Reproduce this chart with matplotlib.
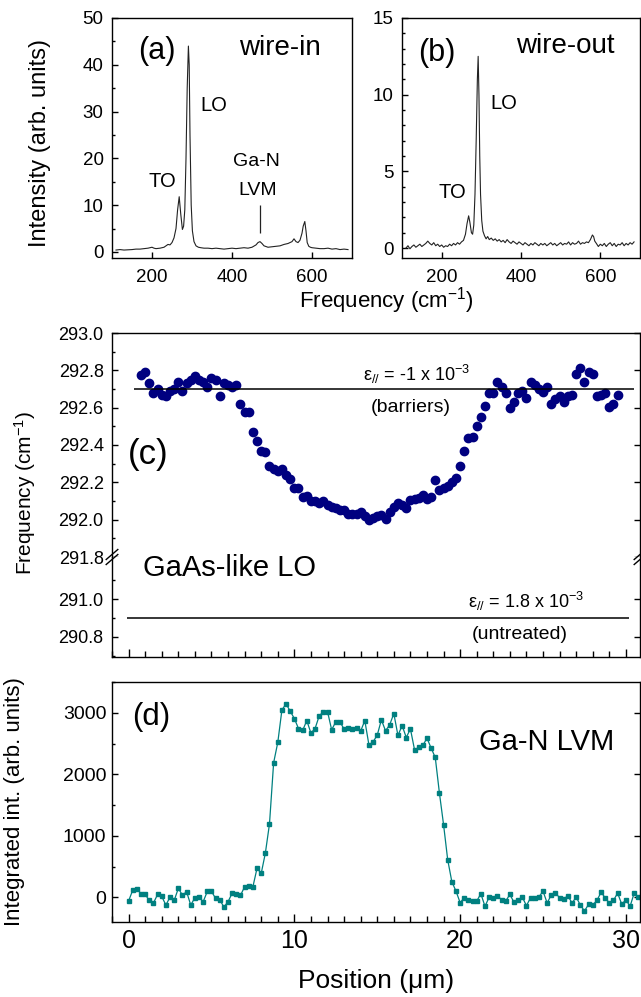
import numpy as np
import matplotlib
matplotlib.use('Agg')
import matplotlib.pyplot as plt
from matplotlib.ticker import MultipleLocator, FixedLocator, FormatStrFormatter

plt.rcParams['font.family'] = ['Liberation Sans', 'DejaVu Sans']
plt.rcParams['mathtext.fontset'] = 'custom'
plt.rcParams['mathtext.rm'] = 'Liberation Sans'
plt.rcParams['mathtext.it'] = 'Liberation Sans:italic'
plt.rcParams['mathtext.sf'] = 'Liberation Sans'
plt.rcParams['axes.linewidth'] = 1.0

# ---- (a) wire-in spectrum
freq_a = [110, 120, 130, 140, 150, 160, 170, 180, 190, 200, 205, 210, 220, 230, 240, 245,
          250, 255, 260, 264, 268, 272, 276, 279, 282, 285, 288, 291, 293, 295, 298, 301,
          305, 310, 316, 322, 330, 340, 350, 360, 370, 380, 390, 400, 410, 420, 430, 440,
          450, 460, 465, 470, 475, 480, 490, 500, 510, 520, 530, 540, 550, 555, 560, 565,
          570, 575, 578, 582, 585, 588, 592, 596, 600, 610, 620, 630, 640, 650, 660, 670,
          680, 690]
int_a = [0.4, 0.5, 0.4, 0.45, 0.5, 0.6, 0.6, 0.7, 0.8, 1.0, 0.8, 0.7, 0.8, 1.0, 1.6, 1.5,
         2.0, 3.0, 5.0, 9.0, 11.8, 8.0, 4.8, 5.5, 9.0, 20.0, 35.0, 44.0, 40.0, 25.0, 10.0, 4.5,
         2.2, 1.3, 1.0, 0.9, 0.8, 0.8, 0.7, 0.8, 0.7, 0.6, 0.7, 0.8, 0.7, 0.8, 0.9, 0.8,
         1.0, 1.5, 2.0, 2.2, 1.8, 1.3, 1.0, 1.1, 1.2, 1.3, 1.6, 1.8, 2.2, 2.8, 2.2, 2.0,
         2.5, 4.0, 5.5, 6.5, 4.5, 2.0, 1.2, 1.0, 0.9, 0.8, 0.7, 0.7, 0.8, 0.6, 0.7, 0.5,
         0.6, 0.5]

# ---- (b) wire-out spectrum
freq_b = [110, 115, 120, 125, 130, 135, 140, 145, 150, 155, 160, 165, 170, 175, 180, 185,
          190, 195, 200, 205, 210, 215, 220, 225, 230, 235, 240, 245, 250, 255, 260, 264,
          268, 271, 275, 278, 281, 284, 287, 290, 292, 294, 296, 298, 301, 304, 308, 312,
          316, 320, 325, 330, 335, 340, 345, 350, 355, 360, 365, 370, 375, 380, 385, 390,
          395, 400, 405, 410, 415, 420, 425, 430, 435, 440, 445, 450, 455, 460, 465, 470,
          475, 480, 485, 490, 495, 500, 505, 510, 515, 520, 525, 530, 535, 540, 545, 550,
          555, 560, 565, 570, 575, 580, 583, 586, 590, 595, 600, 605, 610, 615, 620, 625,
          630, 635, 640, 645, 650, 655, 660, 665, 670, 675, 680, 685]
int_b = [0.0, 0.15, -0.05, 0.1, 0.2, 0.05, 0.15, 0.25, 0.1, 0.2, 0.3, 0.45, 0.3, 0.2, 0.35, 0.15,
         0.25, 0.1, 0.2, 0.05, 0.15, 0.1, 0.25, 0.15, 0.3, 0.2, 0.35, 0.25, 0.4, 0.5, 0.9, 1.6,
         2.1, 1.7, 1.0, 0.9, 1.5, 3.5, 7.0, 11.0, 12.5, 10.0, 6.0, 3.5, 1.8, 1.1, 0.8, 0.6,
         0.75, 0.55, 0.65, 0.5, 0.6, 0.45, 0.55, 0.4, 0.5, 0.35, 0.55, 0.4, 0.3, 0.45, 0.35, 0.25,
         0.4, 0.3, 0.2, 0.35, 0.25, 0.15, 0.3, 0.2, 0.35, 0.25, 0.15, 0.3, 0.2, 0.3, 0.15, 0.25,
         0.35, 0.2, 0.3, 0.15, 0.25, 0.35, 0.2, 0.3, 0.25, 0.4, 0.2, 0.35, 0.25, 0.3, 0.45, 0.25,
         0.35, 0.3, 0.4, 0.35, 0.55, 0.85, 0.75, 0.45, 0.3, 0.1, 0.25, 0.15, 0.3, 0.1, 0.25, 0.35,
         0.15, 0.3, 0.1, 0.25, 0.2, 0.35, 0.15, 0.3, 0.2, 0.35, 0.25, 0.4]

# ---- (c) GaAs-like LO frequency vs position
pos_c_start, pos_c_step = 0.75, 0.25
freq_c = [292.775, 292.79, 292.73, 292.68, 292.70, 292.67, 292.66, 292.69, 292.70, 292.74,
          292.69, 292.73, 292.75, 292.77, 292.75, 292.74, 292.71, 292.76, 292.75, 292.66,
          292.73, 292.72, 292.71, 292.72, 292.62, 292.575, 292.575, 292.47, 292.42, 292.37,
          292.36, 292.29, 292.27, 292.26, 292.27, 292.24, 292.22, 292.17, 292.17, 292.12,
          292.125, 292.10, 292.10, 292.09, 292.10, 292.08, 292.07, 292.06, 292.05, 292.05,
          292.03, 292.03, 292.03, 292.04, 292.02, 292.00, 292.01, 292.02, 292.025, 292.005,
          292.04, 292.07, 292.09, 292.08, 292.06, 292.105, 292.11, 292.115, 292.13, 292.11,
          292.12, 292.21, 292.16, 292.17, 292.18, 292.20, 292.225, 292.29, 292.37, 292.44,
          292.445, 292.50, 292.55, 292.61, 292.68, 292.68, 292.74, 292.71, 292.68, 292.60,
          292.63, 292.68, 292.69, 292.65, 292.74, 292.72, 292.70, 292.685, 292.71, 292.62,
          292.645, 292.66, 292.63, 292.66, 292.67, 292.78, 292.81, 292.74, 292.79, 292.78,
          292.66, 292.67, 292.68, 292.605, 292.62, 292.67]
pos_c = pos_c_start + pos_c_step * np.arange(len(freq_c))
barrier_level = 292.7
untreated_level = 290.9

# ---- (d) Ga-N LVM integrated intensity vs position
pos_d_step = 0.25
int_d = [-60, 118, 140, 60, 48, -50, -92, 48, 16, -125, 5, -50, 145, 37, 92, -125, -5, 5, -70, 97,
         97, -16, -38, -157, -70, 70, 48, 32, 173, 183, 173, 475, 389, 718, 1194, 2188, 2517, 3047,
         3144, 3026, 2906, 2744, 2712, 2874, 2669, 2744, 2950, 3015, 3020, 2723, 2853, 2853, 2734,
         2755, 2744, 2755, 2702, 2874, 2475, 2528, 2637, 2885, 2707, 2804, 2987, 2631, 2793, 2598,
         2739, 2399, 2436, 2469, 2588, 2426, 2274, 1697, 1183, 611, 254, 102, -86, -5, -49, -60,
         -60, 59, -146, 5, -16, 27, -38, -60, 48, -81, -38, 5, -135, -5, -16, 5, 102, -92, 43, 70,
         -5, -27, 27, -92, 5, -124, -221, -113, -124, -49, 81, -5, -92, -49, 70, -113, -38, -146,
         70, 5]
pos_d = pos_d_step * np.arange(len(int_d))

W, H = 641, 997
fig = plt.figure(figsize=(W / 100, H / 100), dpi=100)


def box(l, t, r, b):
    return [l / W, 1 - b / H, (r - l) / W, (b - t) / H]


def style(ax, fs):
    ax.tick_params(which='both', direction='in', width=1.0, labelsize=fs)
    ax.tick_params(which='major', length=4)
    ax.tick_params(which='minor', length=2.5)


# ---------- (a)
ax_a = fig.add_axes(box(112, 18, 352, 258))
ax_a.plot(freq_a, int_a, color='#222222', lw=0.8)
ax_a.set_xlim(100, 700)
ax_a.set_ylim(-1.3, 50)
ax_a.xaxis.set_major_locator(MultipleLocator(200))
ax_a.yaxis.set_major_locator(MultipleLocator(10))
ax_a.yaxis.set_minor_locator(MultipleLocator(5))
style(ax_a, 13.5)
ax_a.tick_params(axis='x', pad=8)
ax_a.tick_params(axis='y', pad=6)
ax_a.set_ylabel('Intensity (arb. units)', fontsize=17)
ax_a.yaxis.set_label_coords(-0.255, 0.48)
ax_a.text(212, 43, '(a)', fontsize=22, ha='center', va='center')
ax_a.text(520, 43.6, 'wire-in', fontsize=20, ha='center', va='center')
ax_a.text(354, 31.4, 'LO', fontsize=14.5, ha='center', va='center')
ax_a.text(225, 15, 'TO', fontsize=14.5, ha='center', va='center')
ax_a.text(462, 19.3, 'Ga-N', fontsize=14, ha='center', va='center')
ax_a.text(464, 13.2, 'LVM', fontsize=14, ha='center', va='center')
ax_a.vlines(469, 4.0, 10.0, color='#222222', lw=0.9)

# ---------- (b)
ax_b = fig.add_axes(box(402, 18, 640, 258))
ax_b.plot(freq_b, int_b, color='#222222', lw=0.8)
ax_b.set_xlim(100, 700)
ax_b.set_ylim(-0.65, 15)
ax_b.xaxis.set_major_locator(MultipleLocator(200))
ax_b.yaxis.set_major_locator(MultipleLocator(5))
ax_b.yaxis.set_minor_locator(MultipleLocator(1))
style(ax_b, 13.5)
ax_b.tick_params(axis='x', pad=8)
ax_b.tick_params(axis='y', pad=6)
ax_b.text(188, 12.7, '(b)', fontsize=22, ha='center', va='center')
ax_b.text(511, 13.2, 'wire-out', fontsize=20, ha='center', va='center')
ax_b.text(356, 9.45, 'LO', fontsize=14.5, ha='center', va='center')
ax_b.text(226, 3.6, 'TO', fontsize=14.5, ha='center', va='center')

fig.text(386 / W, 1 - 301 / H, 'Frequency (cm$^{-1}$)', fontsize=16, ha='center', va='center')

# ---------- (c) broken axis
ax_cu = fig.add_axes(box(112, 333, 640, 557))
ax_cl = fig.add_axes(box(112, 557, 640, 657))
for ax in (ax_cu, ax_cl):
    ax.plot(pos_c, freq_c, 'o', color='#000080', ms=6, mec='#000080')
    ax.set_xlim(-1, 30.85)
    ax.xaxis.set_major_locator(MultipleLocator(10))
    ax.xaxis.set_minor_locator(MultipleLocator(1))
    style(ax, 13)
    ax.tick_params(axis='y', pad=6, right=True)
ax_cu.set_ylim(291.8, 293.0)
ax_cu.yaxis.set_major_locator(MultipleLocator(0.2))
ax_cu.yaxis.set_minor_locator(MultipleLocator(0.1))
ax_cu.yaxis.set_major_formatter(FormatStrFormatter('%.1f'))
ax_cu.spines['bottom'].set_visible(False)
ax_cu.tick_params(axis='x', which='both', bottom=False, labelbottom=False)
ax_cl.set_ylim(290.693, 291.224)
ax_cl.yaxis.set_major_locator(FixedLocator([290.8, 291.0]))
ax_cl.yaxis.set_minor_locator(FixedLocator([290.7, 290.9, 291.1]))
ax_cl.yaxis.set_major_formatter(FormatStrFormatter('%.1f'))
ax_cl.spines['top'].set_visible(False)
ax_cl.tick_params(axis='x', labelbottom=False, length=6)
ax_cl.tick_params(axis='x', which='minor', length=4)

ax_cu.hlines(barrier_level, 0.3, 30.5, color='black', lw=1.1)
ax_cl.hlines(untreated_level, -0.1, 30.2, color='black', lw=1.1)
ax_cu.text(17.4, 292.745, 'ε$_{//}$ = -1 x 10$^{-3}$', fontsize=13, ha='center', va='baseline')
ax_cu.text(17.0, 292.60, '(barriers)', fontsize=14, ha='center', va='center')
ax_cl.text(24.0, 290.952, 'ε$_{//}$ = 1.8 x 10$^{-3}$', fontsize=13, ha='center', va='baseline')
ax_cl.text(23.6, 290.81, '(untreated)', fontsize=14, ha='center', va='center')
ax_cu.text(1.2, 292.35, '(c)', fontsize=25, ha='center', va='center')
ax_cl.text(0.9, 291.165, 'GaAs-like LO', fontsize=21, ha='left', va='center', clip_on=False)

# break marks
for xa in (0.0, 1.0):
    for dy in (-0.025, 0.025):
        ax_cl.plot([xa - 0.011, xa + 0.011], [1.0 + dy - 0.05, 1.0 + dy + 0.05],
                   transform=ax_cl.transAxes, color='black', lw=1.0, clip_on=False)
fig.text(25 / W, 1 - 493 / H, 'Frequency (cm$^{-1}$)', fontsize=15, rotation=90,
         ha='center', va='center')

# ---------- (d)
ax_d = fig.add_axes(box(112, 682, 640, 922))
ax_d.plot(pos_d, int_d, '-s', color='#008080', lw=0.9, ms=3.2, clip_on=False)
ax_d.set_xlim(-1, 30.85)
ax_d.set_ylim(-400, 3500)
ax_d.xaxis.set_major_locator(MultipleLocator(10))
ax_d.xaxis.set_minor_locator(MultipleLocator(1))
ax_d.yaxis.set_major_locator(MultipleLocator(1000))
ax_d.yaxis.set_minor_locator(MultipleLocator(500))
style(ax_d, 14)
ax_d.tick_params(axis='y', right=True, pad=4)
ax_d.tick_params(axis='x', labelsize=18, pad=5, length=6)
ax_d.tick_params(axis='x', which='minor', length=4)
ax_d.set_ylabel('Integrated int. (arb. units)', fontsize=16)
ax_d.yaxis.set_label_coords(-0.165, 0.5)
ax_d.set_xlabel('Position (μm)', fontsize=19)
ax_d.xaxis.set_label_coords(0.5, -0.195)
ax_d.text(1.37, 2933, '(d)', fontsize=22.5, ha='center', va='center')
ax_d.text(25.2, 2533, 'Ga-N LVM', fontsize=21, ha='center', va='center')

fig.savefig('out.png', dpi=100)
